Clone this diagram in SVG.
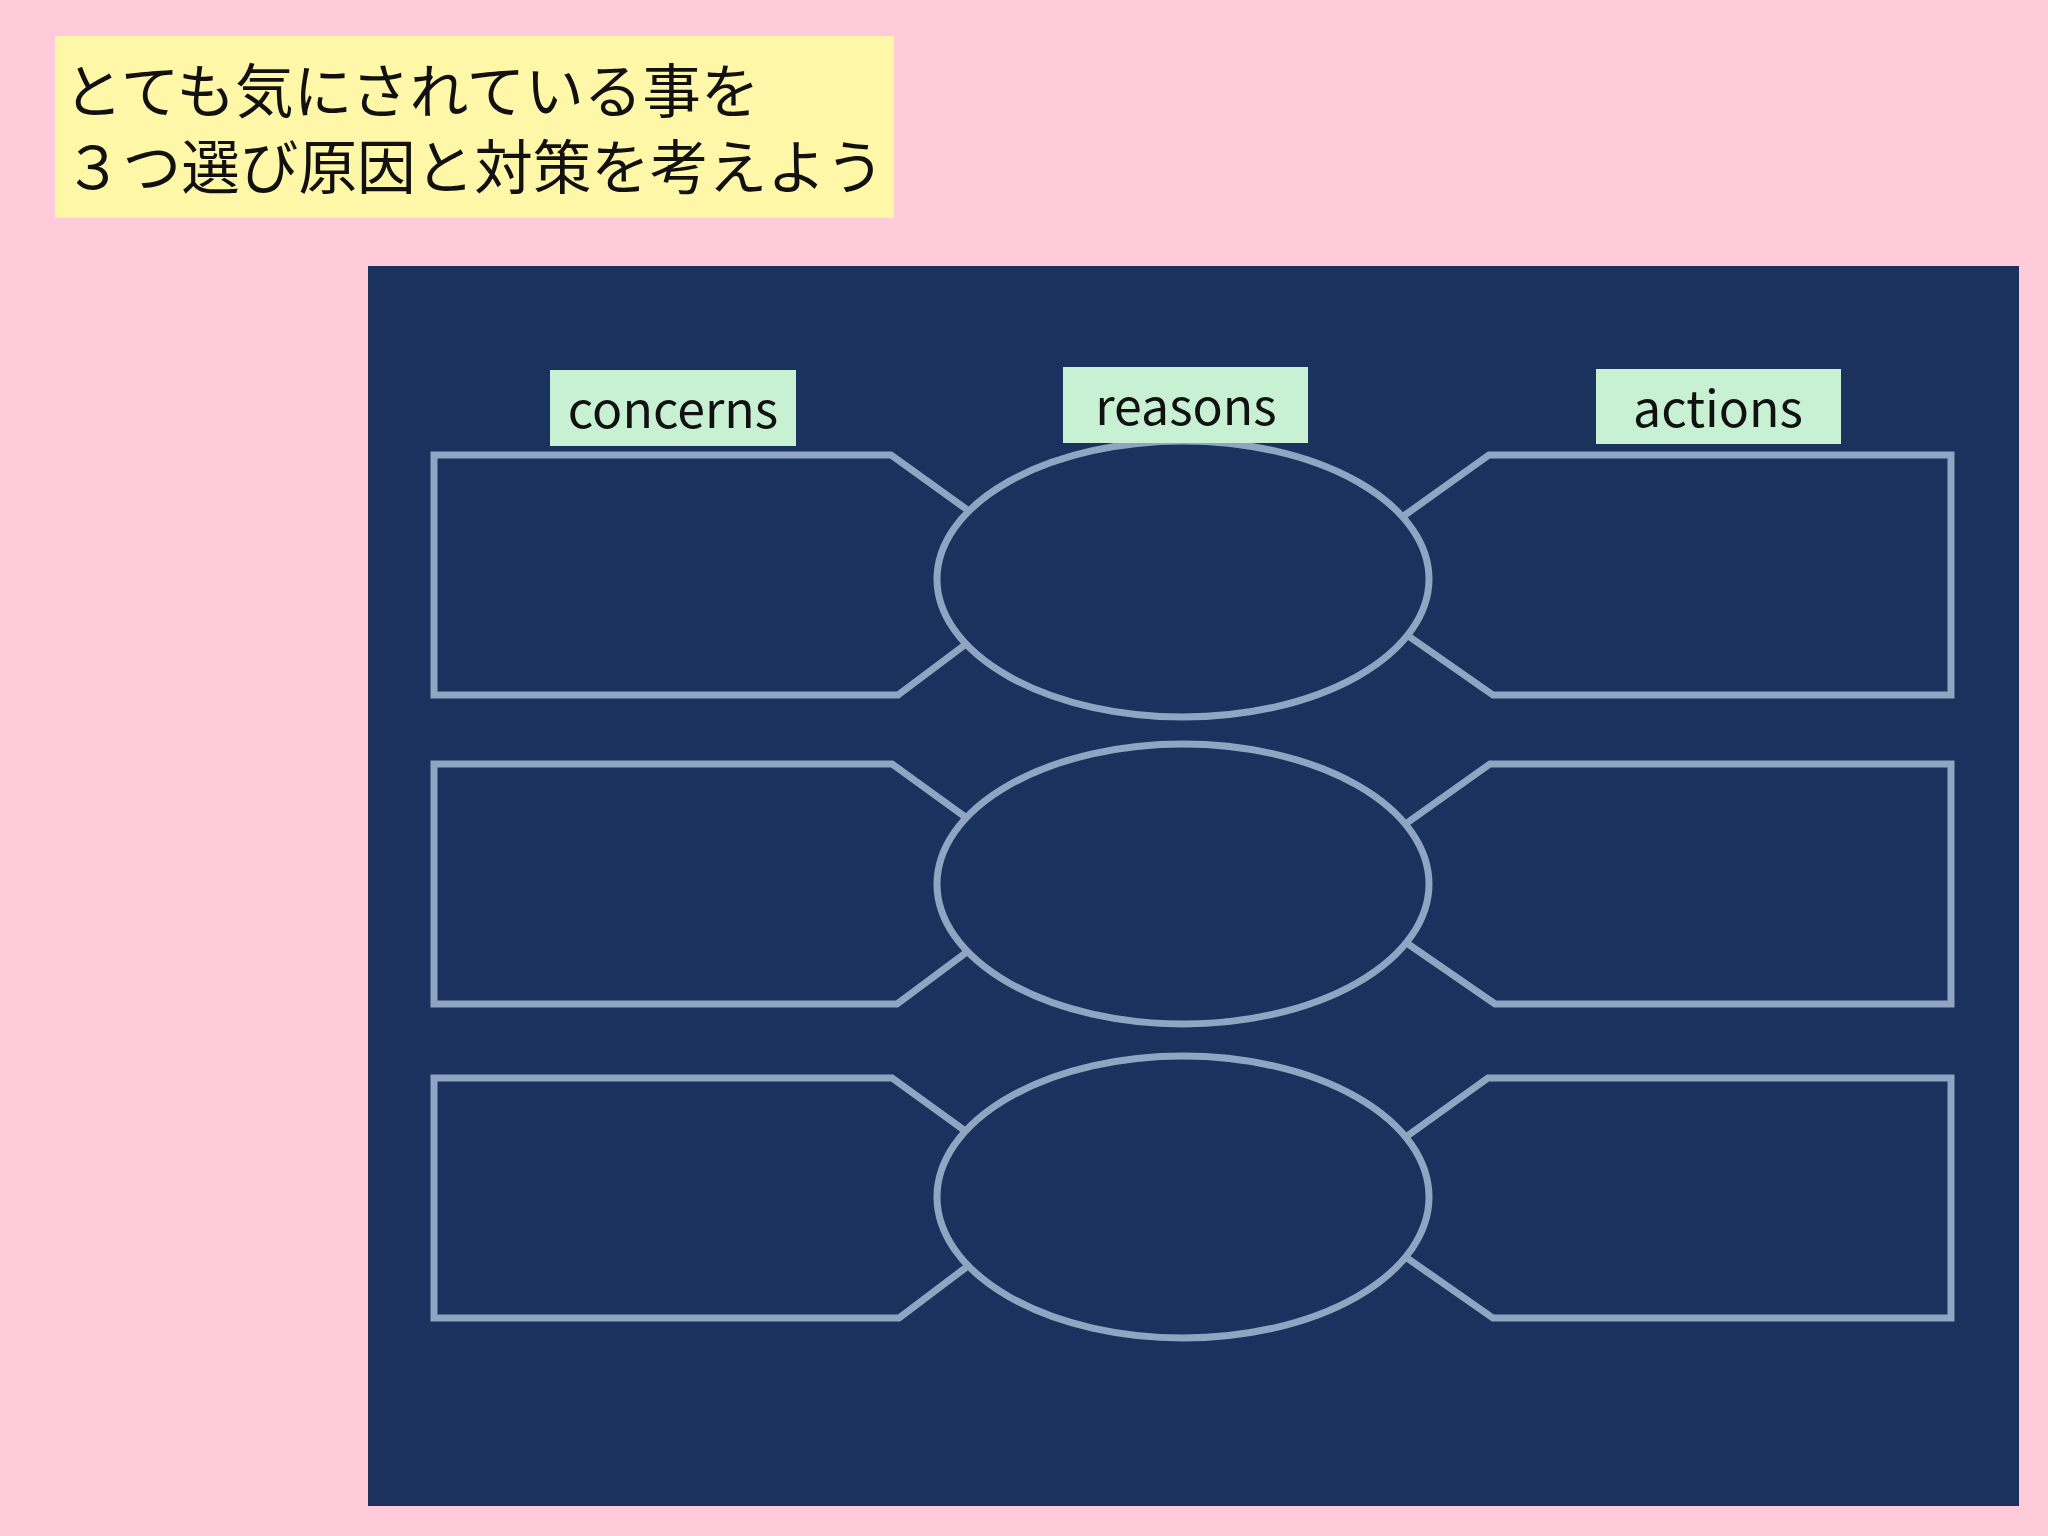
<svg xmlns="http://www.w3.org/2000/svg" width="2048" height="1536" viewBox="0 0 2048 1536">
<style>
.title{font-family:"Noto Sans CJK JP","Noto Sans",sans-serif;font-size:58.6px;fill:#111111}
.lbl{font-family:"Noto Sans CJK JP","Noto Sans",sans-serif;font-size:50px;fill:#111111;text-anchor:middle}
.shape{fill:#1B325E;stroke:#8FA5C2;stroke-width:7;stroke-linejoin:miter}
.tag{fill:#C8F0D3}
</style>
<rect x="0" y="0" width="2048" height="1536" fill="#FFCAD9"/>
<g id="title">
<rect x="55" y="36" width="839" height="182" fill="#FFF7A8"/>
<text class="title" x="64" y="113">とても気にされている事を<tspan x="64" y="189">３つ選び原因と対策を考えよう</tspan></text>
</g>
<rect id="panel" x="368" y="266" width="1651" height="1240" fill="#1B325E"/>
<g id="concerns">
<polygon class="shape" points="434,455 891,455 1058,575 898,695 434,695"/>
<polygon class="shape" points="434,764 892,764 1058,884 897,1004 434,1004"/>
<polygon class="shape" points="434,1078 892,1078 1058,1198 899,1318 434,1318"/>
</g>
<g id="actions">
<polygon class="shape" points="1951,455 1489,455 1321,575 1493,695 1951,695"/>
<polygon class="shape" points="1951,764 1490,764 1321,884 1495,1004 1951,1004"/>
<polygon class="shape" points="1951,1078 1488,1078 1321,1198 1493,1318 1951,1318"/>
</g>
<g id="reasons">
<ellipse class="shape" cx="1183" cy="579" rx="246" ry="138"/>
<ellipse class="shape" cx="1183" cy="884" rx="246" ry="140"/>
<ellipse class="shape" cx="1183" cy="1197" rx="246" ry="141"/>
</g>
<g id="connectors"></g>
<g id="label-concerns">
<rect class="tag" x="550" y="370" width="246" height="76"/>
<text class="lbl" x="673" y="428">concerns</text>
</g>
<g id="label-reasons">
<rect class="tag" x="1063" y="367" width="245" height="76"/>
<text class="lbl" x="1186" y="425">reasons</text>
</g>
<g id="label-actions">
<rect class="tag" x="1596" y="369" width="245" height="75"/>
<text class="lbl" x="1718" y="427">actions</text>
</g>
</svg>
